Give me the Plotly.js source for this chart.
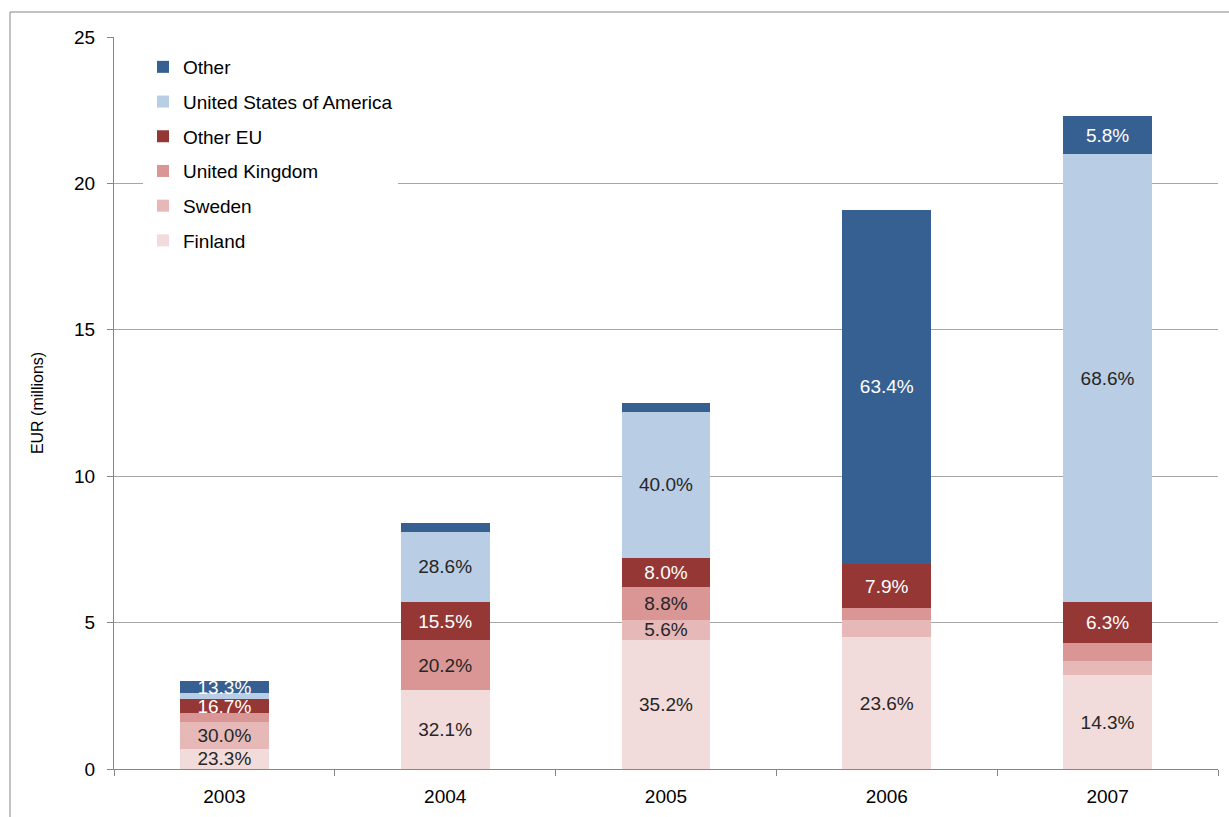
<!DOCTYPE html>
<html>
<head>
<meta charset="utf-8">
<script src="https://cdn.plot.ly/plotly-3.0.1.min.js"></script>
<style>
html,body{margin:0;padding:0;background:#fff;}
#chart{width:1229px;height:817px;}
</style>
</head>
<body>
<div id="chart"></div>
<script>
// ---- data (EUR millions) ----
const years = ['2003', '2004', '2005', '2006', '2007'];
const seriesNames = ['Finland', 'Sweden', 'United Kingdom', 'Other EU', 'United States of America', 'Other'];
const finland = [0.7, 2.7, 4.4, 4.5, 3.2];
const sweden  = [0.9, 0.0, 0.7, 0.6, 0.5];
const uk      = [0.3, 1.7, 1.1, 0.4, 0.6];
const otherEU = [0.5, 1.3, 1.0, 1.5, 1.4];
const usa     = [0.2, 2.4, 5.0, 0.0, 15.3];
const other   = [0.4, 0.3, 0.3, 12.1, 1.3];
// which segments carry a percentage label
const showFinland = [1, 1, 1, 1, 1];
const showSweden  = [1, 0, 1, 0, 0];
const showUK      = [0, 1, 1, 0, 0];
const showOtherEU = [1, 1, 1, 1, 1];
const showUSA     = [0, 1, 1, 0, 1];
const showOther   = [1, 0, 0, 1, 1];

const colors = ['#F2DCDB', '#E6B9B8', '#D99694', '#953735', '#B9CDE5', '#376092'];
const labelColors = ['#262626', '#262626', '#262626', '#FFFFFF', '#262626', '#FFFFFF'];

const seriesVals = [finland, sweden, uk, otherEU, usa, other];
const seriesShow = [showFinland, showSweden, showUK, showOtherEU, showUSA, showOther];
const totals = years.map((_, i) => seriesVals.reduce((s, arr) => s + arr[i], 0));

const FONT = '"Liberation Sans", Arial, sans-serif';

const traces = seriesVals.map((vals, k) => ({
  type: 'bar',
  name: seriesNames[k],
  legendgroup: 'g' + k,
  legendrank: 100 - k,
  x: years,
  y: vals,
  marker: {color: colors[k], line: {width: 0}},
  text: vals.map((v, i) => seriesShow[k][i] ? (v / totals[i] * 100).toFixed(1) + '%' : ''),
  textposition: 'inside',
  insidetextanchor: 'middle',
  textangle: 0,
  constraintext: 'none',
  textfont: {family: FONT, size: 19, color: labelColors[k]},
  hoverinfo: 'x+y+name'
}));

// pixel helpers for frame lines (plot area: x 114..1218, y 37..769)
const px = p => (p - 114) / 1104;
const py = p => (769 - p) / 732;

const layout = {
  width: 1229,
  height: 817,
  margin: {l: 114, r: 11, t: 37, b: 48, pad: 0},
  paper_bgcolor: '#ffffff',
  plot_bgcolor: '#ffffff',
  barmode: 'stack',
  bargap: 0.597,
  font: {family: FONT, size: 19, color: '#000000'},
  showlegend: true,
  legend: {
    x: px(143), y: py(48), xanchor: 'left', yanchor: 'top',
    bgcolor: '#ffffff', borderwidth: 0,
    traceorder: 'grouped',
    tracegroupgap: 7,
    font: {family: FONT, size: 19, color: '#000000'}
  },
  xaxis: {
    type: 'category',
    showline: true, linecolor: '#868686', linewidth: 1,
    ticks: 'outside', ticklen: 6, tickcolor: '#868686',
    tickson: 'boundaries',
    showgrid: false,
    ticklabelstandoff: 10,
    tickfont: {family: FONT, size: 19, color: '#000000'}
  },
  yaxis: {
    range: [0, 25], dtick: 5, tick0: 0,
    showline: true, linecolor: '#868686', linewidth: 1,
    ticks: 'outside', ticklen: 6, tickcolor: '#868686',
    showgrid: true, gridcolor: '#A6A6A6', gridwidth: 1,
    zeroline: false,
    ticklabelstandoff: 8,
    tickfont: {family: FONT, size: 19, color: '#000000'},
    title: {text: 'EUR (millions)', standoff: 26, font: {family: FONT, size: 16, color: '#000000'}}
  },
  shapes: [
    {type: 'line', xref: 'paper', yref: 'paper', x0: px(10), x1: px(1240), y0: py(12), y1: py(12),
     line: {color: '#868686', width: 1}},
    {type: 'line', xref: 'paper', yref: 'paper', x0: px(10), x1: px(10), y0: py(12), y1: py(830),
     line: {color: '#868686', width: 1}}
  ]
};

Plotly.newPlot('chart', traces, layout, {displayModeBar: false, staticPlot: true});
</script>
</body>
</html>
